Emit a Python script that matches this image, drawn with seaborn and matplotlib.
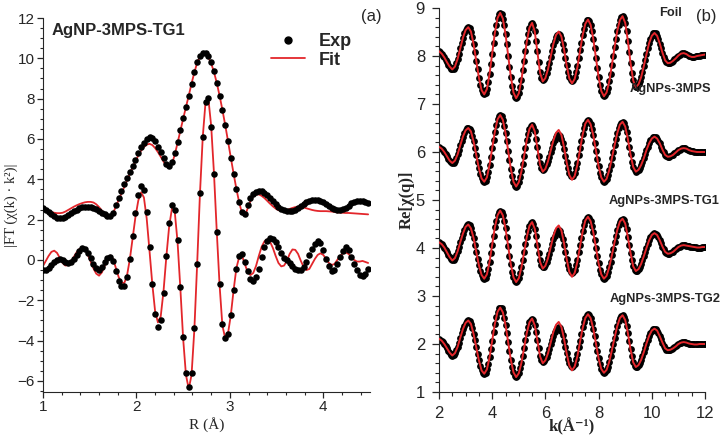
import numpy as np
import seaborn as sns
import matplotlib.pyplot as plt
from matplotlib.lines import Line2D
from matplotlib.ticker import MultipleLocator

# ---------------- panel (a): |FT| and Re[FT] in R-space (uniform R grid)
R_START, R_STEP = 1.0, 0.03

mag_exp = [
    2.58, 2.50, 2.40, 2.28, 2.17, 2.10, 2.07, 2.08, 2.13, 2.22,
    2.32, 2.42, 2.50, 2.56, 2.61, 2.63, 2.64, 2.63, 2.60, 2.53,
    2.45, 2.35, 2.26, 2.19, 2.16, 2.35, 2.72, 3.08, 3.40, 3.76,
    4.08, 4.38, 4.68, 4.95, 5.30, 5.60, 5.82, 5.99, 6.08, 6.04,
    5.88, 5.62, 5.34, 5.04, 4.78, 4.64, 4.85, 5.30, 5.85, 6.45,
    7.05, 7.60, 8.15, 8.75, 9.30, 9.80, 10.10, 10.25, 10.25, 10.10,
    9.80, 9.35, 8.80, 8.15, 7.45, 6.70, 5.90, 5.05, 4.25, 3.50,
    2.85, 2.40, 2.28, 2.72, 3.08, 3.28, 3.38, 3.42, 3.40, 3.32,
    3.22, 3.08, 2.94, 2.78, 2.64, 2.53, 2.46, 2.42, 2.41, 2.44,
    2.50, 2.58, 2.67, 2.77, 2.86, 2.92, 2.96, 2.98, 2.97, 2.93,
    2.87, 2.79, 2.70, 2.60, 2.53, 2.49, 2.48, 2.52, 2.60, 2.70,
    2.80, 2.88, 2.92, 2.94, 2.93, 2.88, 2.82,
]
mag_fit = [
    2.52, 2.48, 2.43, 2.38, 2.34, 2.32, 2.32, 2.34, 2.40, 2.48,
    2.56, 2.64, 2.71, 2.77, 2.82, 2.86, 2.88, 2.88, 2.85, 2.76,
    2.62, 2.45, 2.28, 2.16, 2.12, 2.32, 2.65, 2.98, 3.30, 3.62,
    3.95, 4.28, 4.60, 4.90, 5.18, 5.42, 5.60, 5.72, 5.76, 5.70,
    5.55, 5.35, 5.12, 4.88, 4.68, 4.58, 4.75, 5.22, 5.80, 6.40,
    7.00, 7.58, 8.15, 8.75, 9.30, 9.78, 10.08, 10.24, 10.22, 10.05,
    9.75, 9.32, 8.78, 8.15, 7.45, 6.70, 5.90, 5.08, 4.28, 3.52,
    2.85, 2.32, 2.18, 2.55, 2.92, 3.15, 3.25, 3.25, 3.18, 3.07,
    2.93, 2.79, 2.66, 2.55, 2.47, 2.44, 2.45, 2.48, 2.53, 2.58,
    2.62, 2.64, 2.63, 2.60, 2.56, 2.52, 2.48, 2.45, 2.43, 2.42,
    2.42, 2.42, 2.41, 2.40, 2.38, 2.36, 2.35, 2.34, 2.33, 2.33,
    2.32, 2.31, 2.30, 2.29, 2.28, 2.27, 2.26,
]
re_exp = [
    -0.50, -0.48, -0.42, -0.25, -0.08, 0.02, 0.04, 0.00, -0.08, -0.15,
    -0.12, 0.05, 0.25, 0.45, 0.57, 0.52, 0.35, 0.08, -0.22, -0.42,
    -0.48, -0.35, -0.08, 0.12, 0.17, -0.05, -0.55, -1.05, -1.28, -1.30,
    -0.84, 0.05, 1.19, 2.33, 3.22, 3.67, 3.47, 2.38, 0.65, -1.20,
    -2.68, -3.33, -2.97, -1.63, 0.19, 1.82, 2.74, 2.49, 0.98, -1.32,
    -3.80, -5.60, -6.30, -5.60, -3.40, -0.20, 3.30, 6.10, 7.85, 8.05,
    6.60, 4.28, 1.40, -1.20, -3.20, -3.85, -3.65, -2.75, -1.50, -0.45,
    0.18, 0.30, -0.08, -0.55, -0.95, -1.05, -0.85, -0.45, 0.15, 0.65,
    0.95, 1.10, 1.05, 0.90, 0.65, 0.35, 0.12, 0.00, -0.15, -0.30,
    -0.45, -0.52, -0.50, -0.35, -0.10, 0.25, 0.55, 0.80, 0.95, 0.85,
    0.50, 0.05, -0.30, -0.55, -0.50, -0.20, 0.15, 0.45, 0.62, 0.50,
    0.15, -0.20, -0.50, -0.75, -0.82, -0.68, -0.45,
]
re_fit = [
    -0.30, -0.05, 0.20, 0.40, 0.46, 0.35, 0.10, -0.15, -0.28, -0.25,
    -0.08, 0.15, 0.38, 0.54, 0.60, 0.50, 0.25, -0.08, -0.42, -0.68,
    -0.78, -0.62, -0.30, 0.05, 0.22, 0.05, -0.40, -0.85, -1.12, -1.15,
    -0.75, 0.05, 1.10, 2.15, 2.95, 3.35, 3.10, 2.05, 0.45, -1.20,
    -2.55, -3.10, -2.80, -1.55, 0.15, 1.65, 2.55, 2.40, 0.90, -1.40,
    -3.90, -5.70, -6.40, -5.70, -3.45, -0.20, 3.30, 6.10, 7.85, 8.00,
    6.65, 4.30, 1.40, -1.25, -3.25, -3.88, -3.65, -2.75, -1.50, -0.40,
    0.15, 0.20, -0.20, -0.60, -0.75, -0.65, -0.30, 0.20, 0.65, 0.92,
    1.02, 0.90, 0.60, 0.20, -0.15, -0.32, -0.28, -0.05, 0.30, 0.52,
    0.50, 0.30, -0.05, -0.35, -0.50, -0.45, -0.20, 0.05, 0.25, 0.33,
    0.25, 0.05, -0.15, -0.25, -0.20, 0.00, 0.20, 0.33, 0.38, 0.30,
    0.15, 0.00, -0.08, -0.08, -0.05, -0.10, -0.15,
]

# ---------------- panel (b): Re[chi(q)], exp on 0.05 grid, fit on 0.1 grid
K_START = 2.0
K_STEP_EXP, K_STEP_FIT = 0.05, 0.1
samples = ["Foil", "AgNPs-3MPS", "AgNPs-3MPS-TG1", "AgNPs-3MPS-TG2"]
offsets = [8, 6, 4, 2]

foil_exp = [
    0.10, 0.08, 0.05, 0.01, -0.03, -0.08, -0.13, -0.18, -0.23, -0.27, -0.28,
    -0.27, -0.22, -0.15, -0.06, 0.05, 0.16, 0.27, 0.38, 0.47, 0.54, 0.59, 0.60,
    0.58, 0.51, 0.40, 0.25, 0.08, -0.10, -0.28, -0.45, -0.60, -0.71, -0.78, -0.80,
    -0.77, -0.69, -0.55, -0.38, -0.17, 0.05, 0.27, 0.48, 0.65, 0.79, 0.87, 0.90,
    0.87, 0.78, 0.64, 0.46, 0.24, 0.01, -0.22, -0.44, -0.62, -0.76, -0.85, -0.88,
    -0.85, -0.78, -0.65, -0.49, -0.30, -0.10, 0.11, 0.30, 0.46, 0.59, 0.66, 0.69,
    0.65, 0.52, 0.32, 0.10, -0.13, -0.33, -0.46, -0.50,
    -0.48, -0.44, -0.36, -0.26, -0.14, -0.02, 0.10, 0.22, 0.32, 0.40, 0.44, 0.46,
    0.44, 0.37, 0.26, 0.12, -0.04, -0.19, -0.33, -0.44, -0.51, -0.53,
    -0.51, -0.44, -0.34, -0.21, -0.05, 0.12, 0.28, 0.44, 0.57, 0.67, 0.74, 0.76,
    0.73, 0.65, 0.53, 0.36, 0.17, -0.04, -0.25, -0.44, -0.61, -0.73, -0.81, -0.84,
    -0.82, -0.76, -0.66, -0.53, -0.37, -0.19, -0.01, 0.18, 0.36, 0.52, 0.65, 0.75, 0.81, 0.83,
    0.79, 0.69, 0.53, 0.32, 0.09, -0.14, -0.35, -0.51, -0.61, -0.65,
    -0.64, -0.59, -0.53, -0.44, -0.33, -0.21, -0.09, 0.04, 0.16, 0.27, 0.36, 0.42, 0.47, 0.48,
    0.47, 0.42, 0.35, 0.26, 0.17, 0.07, -0.02, -0.09, -0.13, -0.15,
    -0.15, -0.14, -0.12, -0.10, -0.07, -0.05, -0.02, 0.01, 0.03, 0.05, 0.06, 0.06,
    0.05, 0.04, 0.02, 0.00, -0.01, -0.02,
    -0.02, -0.02, -0.01, 0.00, 0.01, 0.01, 0.02, 0.02, 0.03, 0.03,
]
mps_exp = [
    0.11, 0.09, 0.07, 0.04, 0.00, -0.05, -0.09, -0.14, -0.18, -0.21, -0.23,
    -0.22, -0.18, -0.12, -0.05, 0.04, 0.14, 0.23, 0.32, 0.39, 0.45, 0.49, 0.50,
    0.48, 0.43, 0.34, 0.22, 0.09, -0.06, -0.21, -0.34, -0.46, -0.55, -0.60, -0.62,
    -0.60, -0.53, -0.42, -0.27, -0.11, 0.08, 0.26, 0.42, 0.57, 0.68, 0.75, 0.77,
    0.75, 0.67, 0.55, 0.40, 0.22, 0.03, -0.17, -0.35, -0.50, -0.62, -0.70, -0.72,
    -0.70, -0.63, -0.53, -0.40, -0.24, -0.08, 0.09, 0.25, 0.38, 0.48, 0.55, 0.57,
    0.53, 0.43, 0.28, 0.10, -0.08, -0.23, -0.33, -0.37,
    -0.36, -0.32, -0.26, -0.19, -0.10, -0.01, 0.09, 0.18, 0.25, 0.31, 0.35, 0.36,
    0.34, 0.28, 0.18, 0.06, -0.08, -0.21, -0.33, -0.43, -0.49, -0.51,
    -0.49, -0.43, -0.34, -0.22, -0.07, 0.08, 0.23, 0.38, 0.50, 0.59, 0.65, 0.67,
    0.65, 0.58, 0.48, 0.35, 0.19, 0.03, -0.14, -0.30, -0.43, -0.53, -0.60, -0.62,
    -0.60, -0.56, -0.48, -0.38, -0.27, -0.13, 0.01, 0.14, 0.28, 0.39, 0.49, 0.57, 0.61, 0.63,
    0.61, 0.53, 0.42, 0.27, 0.11, -0.05, -0.20, -0.31, -0.38, -0.41,
    -0.40, -0.37, -0.33, -0.27, -0.20, -0.13, -0.05, 0.04, 0.11, 0.18, 0.24, 0.28, 0.31, 0.32,
    0.31, 0.28, 0.23, 0.18, 0.11, 0.05, -0.01, -0.06, -0.09, -0.10,
    -0.10, -0.09, -0.07, -0.06, -0.03, -0.01, 0.01, 0.04, 0.05, 0.07, 0.08, 0.08,
    0.08, 0.07, 0.05, 0.04, 0.02, 0.02,
    0.02, 0.01, 0.01, 0.00, 0.00, 0.00, 0.00, 0.00, 0.00, 0.00,
]
tg1_exp = [
    0.12, 0.10, 0.08, 0.05, 0.01, -0.04, -0.09, -0.14, -0.19, -0.23, -0.26,
    -0.25, -0.21, -0.15, -0.07, 0.02, 0.12, 0.21, 0.30, 0.38, 0.44, 0.48, 0.49,
    0.47, 0.41, 0.32, 0.21, 0.07, -0.08, -0.22, -0.36, -0.48, -0.56, -0.62, -0.64,
    -0.62, -0.55, -0.43, -0.29, -0.11, 0.07, 0.25, 0.43, 0.57, 0.69, 0.76, 0.78,
    0.76, 0.68, 0.56, 0.41, 0.23, 0.04, -0.16, -0.34, -0.49, -0.61, -0.69, -0.71,
    -0.69, -0.63, -0.53, -0.40, -0.25, -0.09, 0.08, 0.23, 0.36, 0.46, 0.52, 0.54,
    0.50, 0.40, 0.25, 0.07, -0.11, -0.26, -0.36, -0.40,
    -0.39, -0.35, -0.29, -0.21, -0.12, -0.02, 0.09, 0.18, 0.26, 0.32, 0.36, 0.37,
    0.35, 0.28, 0.19, 0.06, -0.08, -0.22, -0.35, -0.44, -0.51, -0.53,
    -0.51, -0.45, -0.36, -0.24, -0.09, 0.06, 0.21, 0.36, 0.48, 0.57, 0.63, 0.65,
    0.63, 0.56, 0.46, 0.33, 0.17, 0.01, -0.16, -0.32, -0.45, -0.55, -0.62, -0.64,
    -0.62, -0.58, -0.50, -0.40, -0.29, -0.15, -0.02, 0.12, 0.26, 0.37, 0.47, 0.55, 0.59, 0.61,
    0.58, 0.51, 0.39, 0.23, 0.07, -0.10, -0.26, -0.38, -0.45, -0.48,
    -0.47, -0.44, -0.39, -0.33, -0.26, -0.17, -0.09, 0.00, 0.09, 0.16, 0.22, 0.27, 0.30, 0.31,
    0.30, 0.27, 0.22, 0.16, 0.10, 0.03, -0.03, -0.08, -0.11, -0.12,
    -0.12, -0.11, -0.09, -0.08, -0.05, -0.03, -0.01, 0.02, 0.03, 0.05, 0.06, 0.06,
    0.06, 0.05, 0.05, 0.04, 0.03, 0.03,
    0.03, 0.02, 0.02, 0.01, 0.01, 0.01, 0.01, 0.02, 0.02, 0.02,
]
tg2_exp = [
    0.11, 0.09, 0.07, 0.04, 0.00, -0.05, -0.09, -0.14, -0.18, -0.22, -0.24,
    -0.23, -0.19, -0.13, -0.06, 0.03, 0.13, 0.22, 0.31, 0.38, 0.44, 0.48, 0.49,
    0.47, 0.42, 0.33, 0.21, 0.08, -0.07, -0.21, -0.34, -0.46, -0.55, -0.60, -0.62,
    -0.60, -0.53, -0.42, -0.28, -0.11, 0.07, 0.25, 0.42, 0.56, 0.67, 0.74, 0.76,
    0.74, 0.66, 0.55, 0.40, 0.22, 0.04, -0.15, -0.33, -0.48, -0.59, -0.67, -0.69,
    -0.67, -0.61, -0.51, -0.39, -0.24, -0.08, 0.08, 0.23, 0.35, 0.45, 0.51, 0.53,
    0.50, 0.40, 0.25, 0.08, -0.09, -0.24, -0.34, -0.37,
    -0.36, -0.32, -0.27, -0.19, -0.10, -0.01, 0.08, 0.17, 0.25, 0.30, 0.34, 0.35,
    0.33, 0.27, 0.18, 0.06, -0.07, -0.19, -0.31, -0.40, -0.46, -0.48,
    -0.46, -0.41, -0.32, -0.21, -0.07, 0.07, 0.21, 0.35, 0.46, 0.55, 0.60, 0.62,
    0.60, 0.54, 0.44, 0.32, 0.17, 0.01, -0.15, -0.30, -0.42, -0.52, -0.58, -0.60,
    -0.59, -0.54, -0.47, -0.37, -0.26, -0.13, 0.00, 0.13, 0.26, 0.37, 0.47, 0.54, 0.59, 0.60,
    0.57, 0.50, 0.38, 0.23, 0.06, -0.11, -0.26, -0.38, -0.45, -0.48,
    -0.47, -0.44, -0.39, -0.33, -0.25, -0.17, -0.08, 0.01, 0.09, 0.17, 0.23, 0.28, 0.31, 0.32,
    0.31, 0.28, 0.23, 0.17, 0.10, 0.03, -0.04, -0.09, -0.12, -0.13,
    -0.13, -0.12, -0.11, -0.09, -0.07, -0.05, -0.02, 0.00, 0.02, 0.03, 0.04, 0.04,
    0.04, 0.03, 0.02, 0.01, 0.00, 0.00,
    0.00, -0.01, -0.01, -0.01, -0.01, 0.00, 0.00, 0.00, 0.00, 0.00,
]

foil_fit = [
    0.10, 0.05, -0.03, -0.13, -0.22, -0.28,
    -0.22, -0.06, 0.16, 0.38, 0.54, 0.60,
    0.51, 0.25, -0.10, -0.45, -0.71, -0.80,
    -0.69, -0.38, 0.05, 0.48, 0.79, 0.90,
    0.78, 0.46, 0.01, -0.43, -0.76, -0.88,
    -0.78, -0.49, -0.10, 0.30, 0.59, 0.69,
    0.51, 0.08, -0.35, -0.53,
    -0.46, -0.27, -0.01, 0.25, 0.44, 0.51,
    0.41, 0.14, -0.20, -0.47, -0.57,
    -0.48, -0.24, 0.10, 0.43, 0.67, 0.76,
    0.65, 0.36, -0.04, -0.44, -0.73, -0.84,
    -0.76, -0.53, -0.19, 0.18, 0.52, 0.75, 0.83,
    0.69, 0.32, -0.14, -0.51, -0.65,
    -0.59, -0.44, -0.21, 0.04, 0.27, 0.42, 0.48,
    0.42, 0.26, 0.07, -0.09, -0.15,
    -0.14, -0.10, -0.05, 0.01, 0.05, 0.06,
    0.04, 0.00, -0.02,
    -0.02, 0.00, 0.01, 0.02, 0.03,
]
mps_fit = [
    0.11, 0.07, 0.00, -0.09, -0.18, -0.23,
    -0.18, -0.05, 0.14, 0.32, 0.45, 0.50,
    0.43, 0.22, -0.06, -0.34, -0.55, -0.62,
    -0.53, -0.27, 0.08, 0.42, 0.68, 0.77,
    0.67, 0.40, 0.03, -0.35, -0.62, -0.72,
    -0.63, -0.40, -0.08, 0.25, 0.48, 0.57,
    0.43, 0.08, -0.27, -0.41,
    -0.35, -0.19, 0.03, 0.24, 0.40, 0.46,
    0.36, 0.10, -0.22, -0.48, -0.58,
    -0.50, -0.27, 0.05, 0.36, 0.59, 0.67,
    0.58, 0.35, 0.03, -0.30, -0.53, -0.62,
    -0.56, -0.38, -0.13, 0.14, 0.39, 0.57, 0.63,
    0.53, 0.27, -0.05, -0.31, -0.41,
    -0.37, -0.27, -0.13, 0.04, 0.18, 0.28, 0.32,
    0.28, 0.18, 0.05, -0.06, -0.10,
    -0.09, -0.06, -0.01, 0.04, 0.07, 0.08,
    0.07, 0.04, 0.02,
    0.01, 0.00, 0.00, 0.00, 0.00,
]
tg1_fit = [
    0.12, 0.08, 0.01, -0.09, -0.19, -0.26,
    -0.21, -0.07, 0.12, 0.30, 0.44, 0.49,
    0.41, 0.21, -0.08, -0.36, -0.56, -0.64,
    -0.55, -0.29, 0.07, 0.43, 0.68, 0.78,
    0.68, 0.41, 0.04, -0.34, -0.61, -0.71,
    -0.63, -0.40, -0.09, 0.23, 0.46, 0.54,
    0.40, 0.06, -0.29, -0.43,
    -0.37, -0.21, 0.02, 0.25, 0.41, 0.47,
    0.37, 0.10, -0.23, -0.50, -0.60,
    -0.52, -0.29, 0.03, 0.34, 0.57, 0.65,
    0.56, 0.33, 0.01, -0.32, -0.55, -0.64,
    -0.58, -0.40, -0.15, 0.12, 0.37, 0.55, 0.61,
    0.51, 0.23, -0.10, -0.38, -0.48,
    -0.44, -0.33, -0.17, 0.00, 0.16, 0.27, 0.31,
    0.27, 0.16, 0.03, -0.08, -0.12,
    -0.11, -0.08, -0.03, 0.02, 0.05, 0.06,
    0.05, 0.04, 0.03,
    0.02, 0.01, 0.01, 0.02, 0.02,
]
tg2_fit = [
    0.11, 0.07, 0.00, -0.09, -0.18, -0.24,
    -0.19, -0.06, 0.13, 0.31, 0.44, 0.49,
    0.42, 0.21, -0.07, -0.34, -0.55, -0.62,
    -0.53, -0.28, 0.07, 0.42, 0.67, 0.76,
    0.66, 0.40, 0.04, -0.33, -0.59, -0.69,
    -0.61, -0.39, -0.08, 0.23, 0.45, 0.53,
    0.39, 0.07, -0.26, -0.40,
    -0.34, -0.19, 0.03, 0.25, 0.40, 0.46,
    0.36, 0.11, -0.20, -0.45, -0.55,
    -0.47, -0.26, 0.04, 0.33, 0.54, 0.62,
    0.54, 0.32, 0.01, -0.30, -0.52, -0.60,
    -0.54, -0.37, -0.13, 0.13, 0.37, 0.54, 0.60,
    0.50, 0.23, -0.11, -0.38, -0.48,
    -0.44, -0.33, -0.17, 0.01, 0.17, 0.28, 0.32,
    0.28, 0.16, 0.03, -0.09, -0.13,
    -0.12, -0.09, -0.05, 0.00, 0.03, 0.04,
    0.03, 0.01, 0.00,
    -0.01, -0.01, 0.00, 0.00, 0.00,
]
exp_curves = [foil_exp, mps_exp, tg1_exp, tg2_exp]
fit_curves = [foil_fit, mps_fit, tg1_fit, tg2_fit]

RED = "#e3262b"
SANS = ["Liberation Sans", "DejaVu Sans"]
SERIF = ["Liberation Serif", "DejaVu Serif"]
W, H = 725, 436


def fx(px):
    return px / W


def fy(py):
    return 1 - py / H


sns.set_style("ticks")
plt.rcParams["font.family"] = SANS

fig = plt.figure(figsize=(W / 100, H / 100), dpi=100)
ax_a = fig.add_axes([fx(43), fy(392), (370 - 43) / W, (392 - 18) / H])
ax_b = fig.add_axes([fx(439), fy(392), (705 - 439) / W, (392 - 8) / H])

# ---- panel (a)
r = R_START + R_STEP * np.arange(len(mag_exp))
for fit in (mag_fit, re_fit):
    sns.lineplot(x=r, y=fit, color=RED, lw=1.3, estimator=None, sort=False,
                 legend=False, ax=ax_a, zorder=2)
for exp in (mag_exp, re_exp):
    sns.scatterplot(x=r, y=exp, color="black", s=22, linewidth=0,
                    legend=False, ax=ax_a, zorder=3)
ax_a.set_xlim(1, 4.5)
ax_a.set_ylim(-6.55, 12)
ax_a.xaxis.set_major_locator(MultipleLocator(1))
ax_a.xaxis.set_minor_locator(MultipleLocator(0.2))
ax_a.yaxis.set_major_locator(MultipleLocator(2))
ax_a.yaxis.set_minor_locator(MultipleLocator(0.5))
ax_a.tick_params(which="major", direction="out", length=4, width=0.9,
                 labelsize=11, pad=2)
ax_a.tick_params(which="minor", direction="out", length=2.5, width=0.8)
ax_a.set_xlabel("R (Å)", family=SERIF, fontsize=11, va="center")
ax_a.xaxis.set_label_coords(0.5, (392 - 425) / 374)
ax_a.set_ylabel("|FT (χ(k) · k²)|", family=SERIF, fontsize=10.5, va="center")
ax_a.yaxis.set_label_coords((11 - 43) / 327, 0.5)

handles = [
    Line2D([], [], marker="o", color="black", ls="none", markersize=5),
    Line2D([], [], color=RED, lw=1.3),
]
ax_a.legend(handles, ["Exp", "Fit"], loc="upper left",
            bbox_to_anchor=(fx(271), fy(33)), bbox_transform=fig.transFigure,
            frameon=False, prop=dict(family=SANS, weight="bold", size=13),
            handlelength=1.9, handletextpad=0.75, labelspacing=0.1,
            borderpad=0, borderaxespad=0)
fig.text(fx(52), fy(31), "AgNP-3MPS-TG1", ha="left", va="center",
         fontsize=12, fontweight="bold")
fig.text(fx(371), fy(17), "(a)", ha="center", va="center", fontsize=12)

# ---- panel (b)
for off, exp, fit in zip(offsets, exp_curves, fit_curves):
    ke = K_START + K_STEP_EXP * np.arange(len(exp))
    kf = K_START + K_STEP_FIT * np.arange(len(fit))
    sns.scatterplot(x=ke, y=np.array(exp) + off, color="black", s=24,
                    linewidth=0, legend=False, ax=ax_b, zorder=2)
    sns.lineplot(x=kf, y=np.array(fit) + off, color=RED, lw=1.4,
                 estimator=None, sort=False, legend=False, ax=ax_b, zorder=3)
ax_b.set_xlim(2, 12)
ax_b.set_ylim(1, 9)
ax_b.xaxis.set_major_locator(MultipleLocator(2))
ax_b.xaxis.set_minor_locator(MultipleLocator(0.5))
ax_b.yaxis.set_major_locator(MultipleLocator(1))
ax_b.yaxis.set_minor_locator(MultipleLocator(0.2))
ax_b.tick_params(which="major", direction="out", length=5, width=0.9,
                 labelsize=12, pad=5)
ax_b.tick_params(which="minor", direction="out", length=3, width=0.8)
ax_b.set_xlabel("k(Å⁻¹)", family=SERIF, fontsize=12, fontweight="bold",
                va="center")
ax_b.xaxis.set_label_coords(0.5, (392 - 427) / 384)
ax_b.set_ylabel("Re[χ(q)]", family=SERIF, fontsize=12, fontweight="bold",
                va="center")
ax_b.yaxis.set_label_coords((407 - 439) / 266, 0.5)

label_pos = [(671, 13), (670, 89), (664, 201), (665, 299)]
for name, (px, py) in zip(samples, label_pos):
    fig.text(fx(px), fy(py), name, ha="center", va="center",
             fontsize=9.3, fontweight="bold")
fig.text(fx(706), fy(17), "(b)", ha="center", va="center", fontsize=12)

for ax in (ax_a, ax_b):
    sns.despine(ax=ax)

fig.savefig("out.png", dpi=100)
